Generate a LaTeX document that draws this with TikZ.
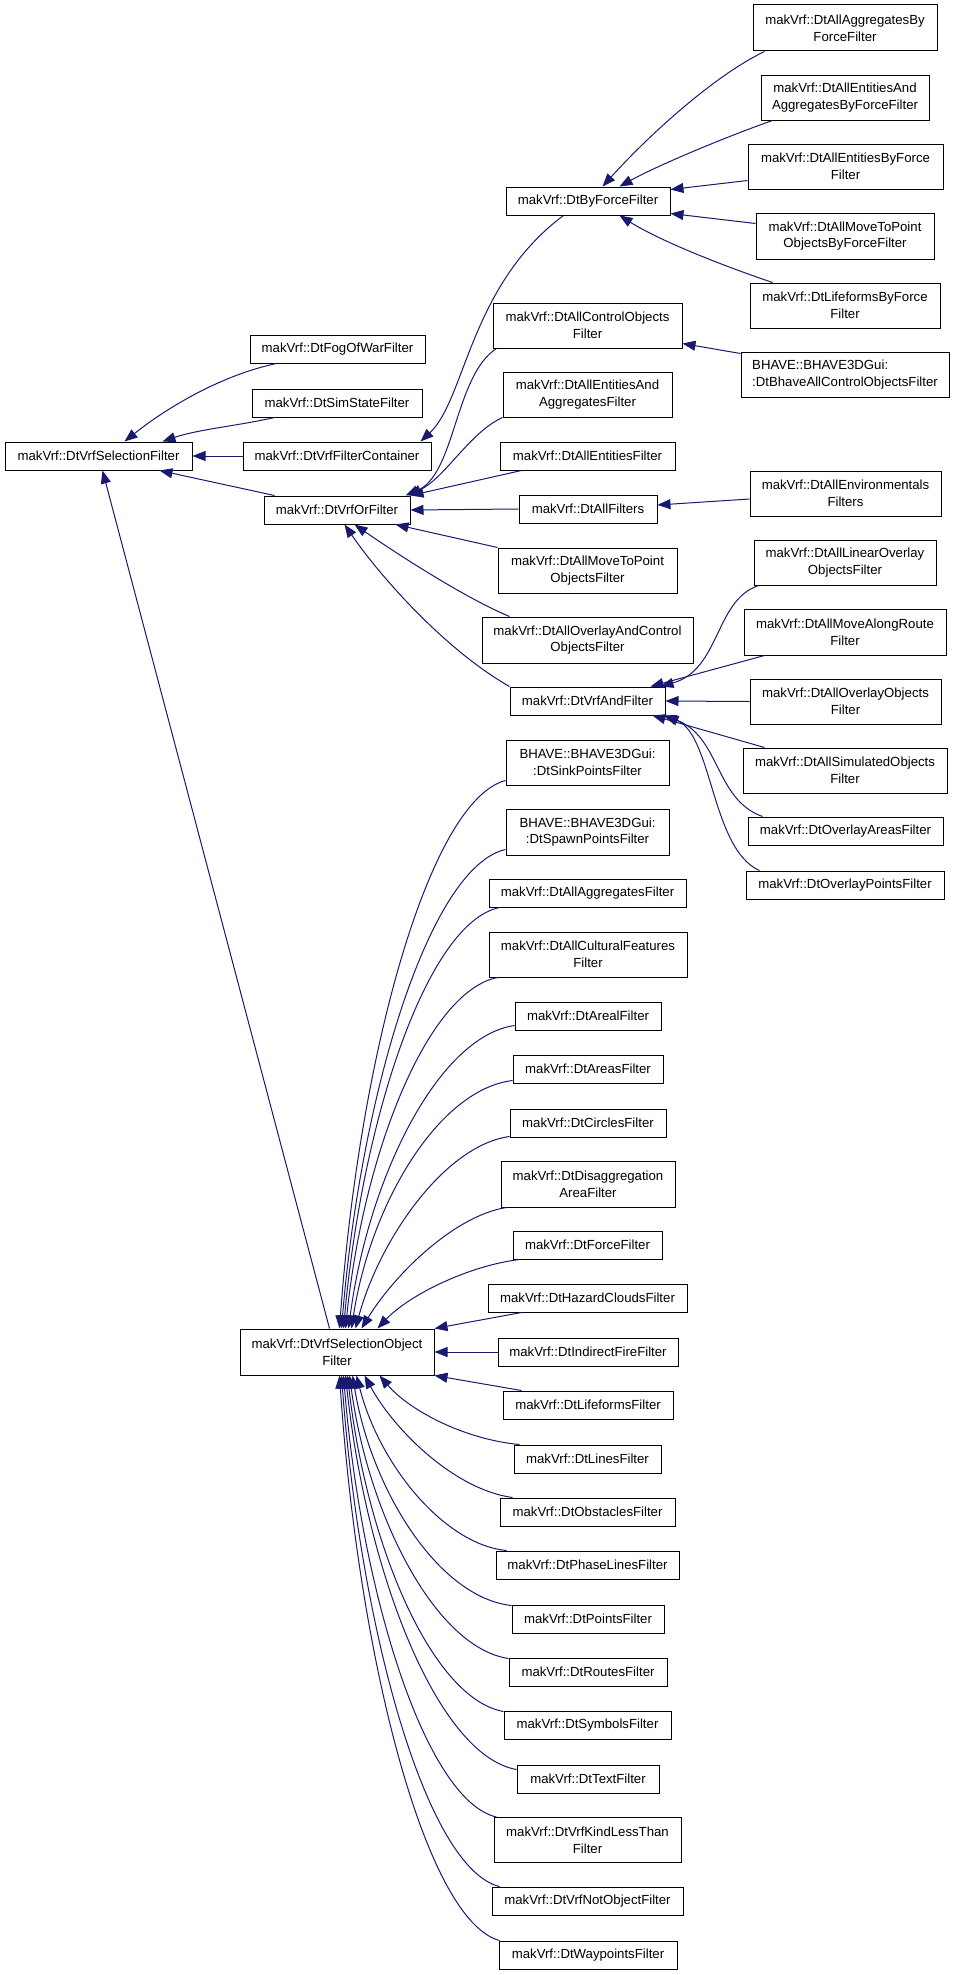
\documentclass[tikz,border=0pt]{standalone}
\usepackage{fontspec}
\setmainfont{Liberation Sans}
\usetikzlibrary{arrows.meta,calc}
\definecolor{edgeblue}{HTML}{191970}
\begin{document}
\begin{tikzpicture}[x=1pt,y=-1pt,
  box/.style={draw=black,line width=1pt,fill=white,inner sep=0pt,align=center,
    font=\fontsize{13.2}{16.7}\selectfont},
  edge/.style={draw=edgeblue,line width=1pt,arrows={Triangle[length=13pt,width=10pt]-}}]
\useasboundingbox[fill=white] (0,0) rectangle (955,1975);
% nodes
\node[box,minimum width=187pt,minimum height=28pt] (sel) at (98.5,456) {makVrf::DtVrfSelectionFilter};
\node[box,minimum width=175pt,minimum height=28pt] (fog) at (337.5,349) {makVrf::DtFogOfWarFilter};
\node[box,minimum width=170pt,minimum height=28pt] (sim) at (337,403) {makVrf::DtSimStateFilter};
\node[box,minimum width=188pt,minimum height=28pt] (cont) at (337,456) {makVrf::DtVrfFilterContainer};
\node[box,minimum width=146pt,minimum height=28pt] (orf) at (337,510) {makVrf::DtVrfOrFilter};
\node[box,minimum width=164pt,minimum height=28pt] (byf) at (588,201) {makVrf::DtByForceFilter};
\node[box,minimum width=184pt,minimum height=46pt] (aabf) at (845,28) {makVrf::DtAllAggregatesBy\\ForceFilter};
\node[box,minimum width=168pt,minimum height=45pt] (aeabf) at (845,97.5) {makVrf::DtAllEntitiesAnd\\AggregatesByForceFilter};
\node[box,minimum width=195pt,minimum height=45pt] (aebf) at (845.5,166.5) {makVrf::DtAllEntitiesByForce\\Filter};
\node[box,minimum width=178pt,minimum height=46pt] (amtpbf) at (845,236) {makVrf::DtAllMoveToPoint\\ObjectsByForceFilter};
\node[box,minimum width=190pt,minimum height=45pt] (lbf) at (845,305.5) {makVrf::DtLifeformsByForce\\Filter};
\node[box,minimum width=189pt,minimum height=45pt] (aco) at (587.5,325.5) {makVrf::DtAllControlObjects\\Filter};
\node[box,minimum width=208pt,minimum height=45pt,align=left] (bhaco) at (845,374.5) {BHAVE::BHAVE3DGui:\\:DtBhaveAllControlObjectsFilter};
\node[box,minimum width=169pt,minimum height=45pt] (aeaf) at (587.5,394.5) {makVrf::DtAllEntitiesAnd\\AggregatesFilter};
\node[box,minimum width=175pt,minimum height=28pt] (aef) at (587.5,456) {makVrf::DtAllEntitiesFilter};
\node[box,minimum width=138pt,minimum height=28pt] (allf) at (588,509) {makVrf::DtAllFilters};
\node[box,minimum width=191pt,minimum height=45pt] (aenv) at (845.5,493.5) {makVrf::DtAllEnvironmentals\\Filters};
\node[box,minimum width=179pt,minimum height=45pt] (amtp) at (587.5,570.5) {makVrf::DtAllMoveToPoint\\ObjectsFilter};
\node[box,minimum width=182pt,minimum height=45pt] (alo) at (845,562.5) {makVrf::DtAllLinearOverlay\\ObjectsFilter};
\node[box,minimum width=211pt,minimum height=46pt] (aoac) at (587.5,640) {makVrf::DtAllOverlayAndControl\\ObjectsFilter};
\node[box,minimum width=202pt,minimum height=46pt] (amar) at (845,632) {makVrf::DtAllMoveAlongRoute\\Filter};
\node[box,minimum width=155pt,minimum height=28pt] (andf) at (587.5,701) {makVrf::DtVrfAndFilter};
\node[box,minimum width=191pt,minimum height=45pt] (aoo) at (845.5,701.5) {makVrf::DtAllOverlayObjects\\Filter};
\node[box,minimum width=204pt,minimum height=45pt] (aso) at (845,770.5) {makVrf::DtAllSimulatedObjects\\Filter};
\node[box,minimum width=195pt,minimum height=28pt] (oaf) at (845.5,831) {makVrf::DtOverlayAreasFilter};
\node[box,minimum width=198pt,minimum height=28pt] (opf) at (845,885) {makVrf::DtOverlayPointsFilter};
\node[box,minimum width=163pt,minimum height=45pt] (sink) at (587.5,762.5) {BHAVE::BHAVE3DGui:\\:DtSinkPointsFilter};
\node[box,minimum width=163pt,minimum height=46pt] (spawn) at (587.5,832) {BHAVE::BHAVE3DGui:\\:DtSpawnPointsFilter};
\node[box,minimum width=197pt,minimum height=28pt] (aagg) at (587.5,893) {makVrf::DtAllAggregatesFilter};
\node[box,minimum width=198pt,minimum height=45pt] (acf) at (588,954.5) {makVrf::DtAllCulturalFeatures\\Filter};
\node[box,minimum width=146pt,minimum height=28pt] (areal) at (588,1016) {makVrf::DtArealFilter};
\node[box,minimum width=150pt,minimum height=28pt] (areas) at (588,1069) {makVrf::DtAreasFilter};
\node[box,minimum width=156pt,minimum height=28pt] (circ) at (588,1123) {makVrf::DtCirclesFilter};
\node[box,minimum width=174pt,minimum height=46pt] (disagg) at (588,1184) {makVrf::DtDisaggregation\\AreaFilter};
\node[box,minimum width=149pt,minimum height=28pt] (force) at (587.5,1245) {makVrf::DtForceFilter};
\node[box,minimum width=199pt,minimum height=28pt] (haz) at (587.5,1298) {makVrf::DtHazardCloudsFilter};
\node[box,minimum width=194pt,minimum height=46pt] (sobj) at (337,1352) {makVrf::DtVrfSelectionObject\\Filter};
\node[box,minimum width=180pt,minimum height=28pt] (ind) at (588,1352) {makVrf::DtIndirectFireFilter};
\node[box,minimum width=170pt,minimum height=28pt] (life) at (588,1405) {makVrf::DtLifeformsFilter};
\node[box,minimum width=147pt,minimum height=28pt] (lines) at (587.5,1459) {makVrf::DtLinesFilter};
\node[box,minimum width=175pt,minimum height=28pt] (obst) at (587.5,1512) {makVrf::DtObstaclesFilter};
\node[box,minimum width=183pt,minimum height=28pt] (phase) at (587.5,1565) {makVrf::DtPhaseLinesFilter};
\node[box,minimum width=152pt,minimum height=28pt] (points) at (588,1619) {makVrf::DtPointsFilter};
\node[box,minimum width=158pt,minimum height=28pt] (routes) at (588,1672) {makVrf::DtRoutesFilter};
\node[box,minimum width=167pt,minimum height=28pt] (symb) at (587.5,1725) {makVrf::DtSymbolsFilter};
\node[box,minimum width=142pt,minimum height=28pt] (text) at (588,1779) {makVrf::DtTextFilter};
\node[box,minimum width=187pt,minimum height=45pt] (kind) at (587.5,1840) {makVrf::DtVrfKindLessThan\\Filter};
\node[box,minimum width=191pt,minimum height=28pt] (notobj) at (587.5,1901) {makVrf::DtVrfNotObjectFilter};
\node[box,minimum width=178pt,minimum height=28pt] (way) at (588,1955) {makVrf::DtWaypointsFilter};
% edges to DtVrfSelectionFilter
\draw[edge] ($(sel.north west)+(120,0)$) .. controls +(40,-32) and +(-57,12) .. ($(fog.south west)+(27,0)$);
\draw[edge] ($(sel.north west)+(158,0)$) .. controls +(35,-12) and +(-35,8) .. ($(sim.south west)+(23,0)$);
\draw[edge] (sel.east) -- (cont.west);
\draw[edge] ($(sel.south west)+(155,0)$) -- ($(orf.north west)+(11,0)$);
\draw[edge] ($(sel.south west)+(98,0)$) -- ($(sobj.north west)+(90,0)$);
% to container
\draw[edge] ($(cont.north east)+(-11,0)$) .. controls +(45,-42) and +(-94,70) .. ($(byf.south west)+(58,0)$);
% to OrFilter
\draw[edge] ($(orf.north east)+(-5,0)$) .. controls +(50,-21) and +(-42,27) .. ($(aco.south west)+(4,0)$);
\draw[edge] ($(orf.north east)+(-2,0)$) .. controls +(37,-18) and +(-33,15) .. (aeaf.south west);
\draw[edge] (orf.north east) -- ($(aef.south west)+(22,0)$);
\draw[edge] (orf.east) -- (allf.west);
\draw[edge] ($(orf.south east)+(-15,0)$) -- (amtp.north west);
\draw[edge] ($(orf.south west)+(91,0)$) .. controls +(45,31) and +(-45,-19) .. ($(aoac.north west)+(28,0)$);
\draw[edge] ($(orf.south west)+(81,0)$) .. controls +(35,51) and +(-65,-37) .. (andf.north west);
% to ByForceFilter
\draw[edge] ($(byf.north west)+(97,0)$) .. controls +(47,-52) and +(-50,24) .. ($(aabf.south west)+(12,0)$);
\draw[edge] ($(byf.north west)+(114,0)$) .. controls +(40,-22) and +(-43,15) .. ($(aeabf.south west)+(12,0)$);
\draw[edge] ($(byf.north east)+(0,3)$) -- ($(aebf.south west)+(0,-9)$);
\draw[edge] ($(byf.south east)+(0,-2)$) -- ($(amtpbf.north west)+(0,11)$);
\draw[edge] ($(byf.south west)+(114,0)$) .. controls +(40,25) and +(-53,-18) .. ($(lbf.north west)+(23,0)$);
% others
\draw[edge] ($(aco.south east)+(0,-5)$) -- ($(bhaco.north west)+(0,2)$);
\draw[edge] ($(allf.east)+(0,-4)$) -- ($(aenv.west)+(0,5.5)$);
% to AndFilter
\draw[edge] ($(andf.north east)+(-5,0)$) .. controls +(60,-17) and +(-44,15) .. ($(alo.south west)+(5,0)$);
\draw[edge] ($(andf.north east)+(-15,0)$) -- ($(amar.south west)+(21,0)$);
\draw[edge] (andf.east) -- (aoo.west);
\draw[edge] ($(andf.south east)+(-13,0)$) -- ($(aso.north west)+(22,0)$);
\draw[edge] ($(andf.south east)+(-2,0)$) .. controls +(57,20) and +(-48,-17) .. ($(oaf.north west)+(15,0)$);
\draw[edge] (andf.south east) .. controls +(47,20) and +(-48,-21) .. ($(opf.north west)+(14,0)$);
% to SelectionObjectFilter (top)
\draw[edge] ($(sobj.north west)+(100,0)$) .. controls +(20,-275) and +(-76,20) .. ($(sink.south west)+(0,-5)$);
\draw[edge] ($(sobj.north west)+(102,0)$) .. controls +(20,-240) and +(-75,17) .. ($(spawn.south west)+(0,-6)$);
\draw[edge] ($(sobj.north west)+(104,0)$) .. controls +(19,-211) and +(-72,15) .. ($(aagg.south west)+(11,0)$);
\draw[edge] ($(sobj.north west)+(106,0)$) .. controls +(18,-176) and +(-70,14) .. ($(acf.south west)+(9,0)$);
\draw[edge] ($(sobj.north west)+(109,0)$) .. controls +(20,-152) and +(-76,11) .. ($(areal.south west)+(0,-5)$);
\draw[edge] ($(sobj.north west)+(112,0)$) .. controls +(19,-125) and +(-74,9) .. ($(areas.south west)+(0,-3)$);
\draw[edge] ($(sobj.north west)+(116,0)$) .. controls +(24,-89) and +(-65,9) .. ($(circ.south west)+(0,-1)$);
\draw[edge] ($(sobj.north west)+(122,0)$) .. controls +(33,-54) and +(-52,8) .. ($(disagg.south west)+(6,0)$);
\draw[edge] ($(sobj.north west)+(138,0)$) .. controls +(32,-34) and +(-50,6) .. ($(force.south west)+(7,0)$);
\draw[edge] (sobj.north east) -- ($(haz.south west)+(34,0)$);
\draw[edge] (sobj.east) -- (ind.west);
% to SelectionObjectFilter (bottom)
\draw[edge] (sobj.south east) -- ($(life.north west)+(19,0)$);
\draw[edge] ($(sobj.south west)+(140,0)$) .. controls +(30,35) and +(-55,-5) .. ($(lines.north west)+(6,0)$);
\draw[edge] ($(sobj.south west)+(125,0)$) .. controls +(30,55) and +(-58,-8) .. ($(obst.north west)+(13,0)$);
\draw[edge] ($(sobj.south west)+(117,0)$) .. controls +(23,90) and +(-62,-6) .. ($(phase.north west)+(11,0)$);
\draw[edge] ($(sobj.south west)+(113,0)$) .. controls +(19,115) and +(-73,-8) .. ($(points.north west)+(0,1)$);
\draw[edge] ($(sobj.south west)+(110,0)$) .. controls +(19,141) and +(-73,-11) .. ($(routes.north west)+(0,1)$);
\draw[edge] ($(sobj.south west)+(108,0)$) .. controls +(19,168) and +(-72,-13) .. ($(symb.north west)+(0,1)$);
\draw[edge] ($(sobj.south west)+(106,0)$) .. controls +(21,197) and +(-79,-14) .. ($(text.north west)+(0,5)$);
\draw[edge] ($(sobj.south west)+(104,0)$) .. controls +(18,221) and +(-70,-16) .. ($(kind.north west)+(3,0)$);
\draw[edge] ($(sobj.south west)+(102,0)$) .. controls +(19,256) and +(-73,-18) .. ($(notobj.north west)+(8,0)$);
\draw[edge] ($(sobj.south west)+(100,0)$) .. controls +(19,283) and +(-74,-20) .. ($(way.north west)+(1,0)$);
\end{tikzpicture}
\end{document}
